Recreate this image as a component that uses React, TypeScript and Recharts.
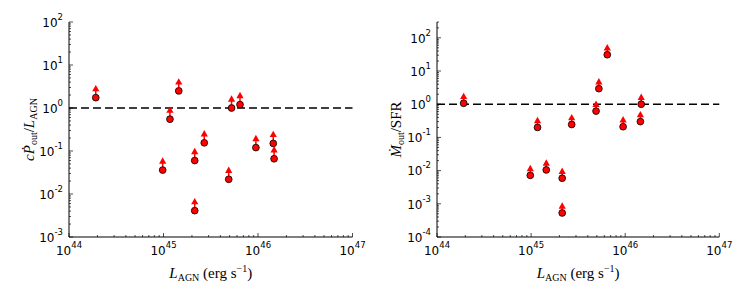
import React from "react";
import {
  ScatterChart,
  Scatter,
  XAxis,
  YAxis,
  ErrorBar,
  ReferenceLine,
} from "recharts";

// AGN luminosity of each source (erg/s)
const lagn = [
  1.92e44, 9.8e44, 1.17e45, 1.45e45, 2.14e45, 2.14e45, 2.7e45, 4.9e45,
  5.25e45, 6.45e45, 9.5e45, 1.45e46, 1.48e46,
];
// c*Pdot_out / L_AGN (lower limits)
const momentumRatio = [
  1.74, 0.036, 0.55, 2.5, 0.06, 0.0041, 0.155, 0.022, 1.0, 1.2, 0.12, 0.15,
  0.066,
];
// Mdot_out / SFR (lower limits)
const massRatio = [
  1.07, 0.0072, 0.2, 0.0105, 0.0059, 0.00053, 0.245, 0.62, 2.95, 31, 0.21,
  0.3, 1.0,
];

const xMajor = [1e44, 1e45, 1e46, 1e47];
const yMajorLeft = [1e-3, 1e-2, 1e-1, 1, 1e1, 1e2];
const yMajorRight = [1e-4, 1e-3, 1e-2, 1e-1, 1, 1e1, 1e2];

const ARROW = 1.65; // lower-limit arrow reaches this factor above the point

const minorTicks = (lo: number, hi: number) => {
  const out: number[] = [];
  for (let e = Math.floor(Math.log10(lo)); e <= Math.ceil(Math.log10(hi)); e++) {
    for (let m = 1; m <= 9; m++) {
      const v = m * Math.pow(10, e);
      if (v >= lo * 0.999 && v <= hi * 1.001) out.push(v);
    }
  }
  return out;
};

const isMajor = (v: number) =>
  Math.abs(Math.log10(v) - Math.round(Math.log10(v))) < 1e-6;
const expOf = (v: number) => Math.round(Math.log10(v));

const TICK_FONT = "'DejaVu Sans', sans-serif";
const LABEL_FONT = "'Liberation Serif', 'DejaVu Serif', serif";

const Pow = ({ v }: { v: number }) => (
  <>
    <tspan>10</tspan>
    <tspan dy={-7} fontSize={8.5}>
      {expOf(v)}
    </tspan>
  </>
);

function makeTick(side: "bottom" | "top" | "left" | "right") {
  return (props: any) => {
    const { x, y, payload } = props;
    const v = payload.value;
    const major = isMajor(v);
    const len = major ? 4 : 2;
    let line;
    if (side === "bottom") line = { x1: x, y1: y, x2: x, y2: y - len };
    else if (side === "top") line = { x1: x, y1: y, x2: x, y2: y + len };
    else if (side === "left") line = { x1: x, y1: y, x2: x + len, y2: y };
    else line = { x1: x, y1: y, x2: x - len, y2: y };
    return (
      <g>
        <line {...line} stroke="#000" strokeWidth={0.7} />
        {major && side === "bottom" && (
          <text
            x={x}
            y={y + 17.5}
            textAnchor="middle"
            fontFamily={TICK_FONT}
            fontSize={12}
            fill="#000"
          >
            <Pow v={v} />
          </text>
        )}
        {major && side === "left" && (
          <text
            x={x - 6}
            y={y + 4.7}
            textAnchor="end"
            fontFamily={TICK_FONT}
            fontSize={12}
            fill="#000"
          >
            <Pow v={v} />
          </text>
        )}
      </g>
    );
  };
}

const Dot = (props: any) => (
  <circle
    cx={props.cx}
    cy={props.cy}
    r={3.4}
    fill="#ff0000"
    stroke="#000"
    strokeWidth={0.8}
  />
);

const Head = (props: any) => {
  const { cx, cy } = props;
  return (
    <path
      d={`M${cx - 3.6},${cy + 3} L${cx + 3.6},${cy + 3} L${cx},${cy - 3.4} Z`}
      fill="#ff0000"
    />
  );
};

interface PanelProps {
  values: number[];
  yDomain: [number, number];
  yMajor: number[];
  width: number;
  yAxisWidth: number;
  rightMargin: number;
  yLabelX: number;
  yLabel: React.ReactNode;
}

function Panel({
  values,
  yDomain,
  yMajor,
  width,
  yAxisWidth,
  rightMargin,
  yLabelX,
  yLabel,
}: PanelProps) {
  const points = lagn.map((x, i) => ({
    x,
    y: values[i],
    err: [0, values[i] * (ARROW - 1)],
  }));
  const heads = lagn.map((x, i) => ({ x, y: values[i] * ARROW }));
  const xTicks = minorTicks(1e44, 1e47);
  const yTicks = minorTicks(yDomain[0], yDomain[1]);
  const yMaj = yTicks.filter((t) => yMajor.some((m) => Math.abs(m - t) < m * 1e-6) || !isMajor(t));

  return (
    <ScatterChart
      width={width}
      height={299}
      margin={{ top: 22, right: rightMargin, bottom: 22, left: 0 }}
    >
      <XAxis
        xAxisId="b"
        type="number"
        dataKey="x"
        scale="log"
        domain={[1e44, 1e47]}
        allowDataOverflow
        ticks={xTicks}
        interval={0}
        tickSize={0}
        tickMargin={0}
        tickLine={false}
        tick={makeTick("bottom")}
        axisLine={{ stroke: "#000", strokeWidth: 1 }}
        height={40}
        label={{
          content: (p: any) => {
            const vb = p.viewBox;
            return (
              <text
                x={vb.x + vb.width / 2}
                y={vb.y + 41}
                textAnchor="middle"
                fontFamily={LABEL_FONT}
                fontSize={15}
                fill="#000"
              >
                <tspan fontStyle="italic">L</tspan>
                <tspan dy={3} fontSize={10}>AGN</tspan>
                <tspan dy={-3}> (erg s</tspan>
                <tspan dy={-6} fontSize={10}>−1</tspan>
                <tspan dy={6}>)</tspan>
              </text>
            );
          },
        }}
      />
      <XAxis
        xAxisId="t"
        orientation="top"
        type="number"
        scale="log"
        domain={[1e44, 1e47]}
        allowDataOverflow
        ticks={xTicks}
        interval={0}
        tickSize={0}
        tickMargin={0}
        tickLine={false}
        tick={makeTick("top")}
        axisLine={{ stroke: "#000", strokeWidth: 1 }}
        height={0}
      />
      <YAxis
        yAxisId="l"
        type="number"
        dataKey="y"
        scale="log"
        domain={yDomain}
        allowDataOverflow
        ticks={yMaj}
        interval={0}
        tickSize={0}
        tickMargin={0}
        tickLine={false}
        tick={makeTick("left")}
        axisLine={{ stroke: "#000", strokeWidth: 1 }}
        width={yAxisWidth}
        label={{
          content: (p: any) => {
            const vb = p.viewBox;
            const cy = vb.y + vb.height / 2;
            return (
              <text
                x={yLabelX}
                y={cy}
                transform={`rotate(-90, ${yLabelX}, ${cy})`}
                textAnchor="middle"
                fontFamily={LABEL_FONT}
                fontSize={15}
                fill="#000"
              >
                {yLabel}
              </text>
            );
          },
        }}
      />
      <YAxis
        yAxisId="r"
        orientation="right"
        type="number"
        scale="log"
        domain={yDomain}
        allowDataOverflow
        ticks={yTicks}
        interval={0}
        tickSize={0}
        tickMargin={0}
        tickLine={false}
        tick={makeTick("right")}
        axisLine={{ stroke: "#000", strokeWidth: 1 }}
        width={0}
      />
      <ReferenceLine
        xAxisId="b"
        yAxisId="l"
        y={1}
        stroke="#000"
        strokeWidth={1.4}
        strokeDasharray="8 4"
      />
      <Scatter
        xAxisId="b"
        yAxisId="l"
        data={points}
        shape={Dot}
        isAnimationActive={false}
      >
        <ErrorBar
          dataKey="err"
          direction="y"
          width={0}
          stroke="#ff0000"
          strokeWidth={1.5}
          isAnimationActive={false}
        />
      </Scatter>
      <Scatter
        xAxisId="b"
        yAxisId="l"
        data={heads}
        shape={Head}
        isAnimationActive={false}
      />
    </ScatterChart>
  );
}

export default function App() {
  return (
    <div
      style={{
        position: "absolute",
        left: 0,
        top: 0,
        width: 747,
        height: 299,
        background: "#fff",
        display: "flex",
      }}
    >
      <Panel
        values={momentumRatio}
        yDomain={[1e-3, 1e2]}
        yMajor={yMajorLeft}
        width={370}
        yAxisWidth={69}
        rightMargin={17.5}
        yLabelX={34}
        yLabel={
          <>
            <tspan fontStyle="italic">cṖ</tspan>
            <tspan dy={3} fontSize={10}>out</tspan>
            <tspan dy={-3}>/</tspan>
            <tspan fontStyle="italic">L</tspan>
            <tspan dy={3} fontSize={10}>AGN</tspan>
          </>
        }
      />
      <Panel
        values={massRatio}
        yDomain={[1e-4, 3e2]}
        yMajor={yMajorRight}
        width={377}
        yAxisWidth={67}
        rightMargin={27.7}
        yLabelX={31}
        yLabel={
          <>
            <tspan fontStyle="italic">Ṁ</tspan>
            <tspan dy={3} fontSize={10}>out</tspan>
            <tspan dy={-3}>/SFR</tspan>
          </>
        }
      />
    </div>
  );
}
